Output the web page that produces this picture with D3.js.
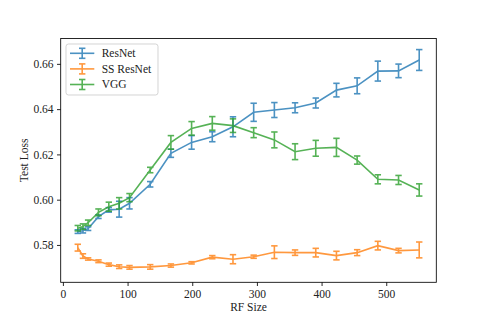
<!DOCTYPE html>
<html>
<head>
<script src="https://d3js.org/d3.v7.min.js"></script>
<style>
  body { margin: 0; background: #fff; }
  text { font-family: "Liberation Serif", "DejaVu Serif", serif; fill: #222; }
</style>
</head>
<body>
<div id="vis"></div>
<script>
// receptive field sizes (x)
var rfSize = [23, 31, 39, 55, 71, 87, 103, 135, 167, 199, 231, 263, 295, 327, 359, 391, 423, 455, 487, 519, 551];

var resnetMean = [0.5859, 0.5863, 0.5872, 0.5925, 0.5955, 0.5958, 0.5984, 0.6068, 0.6205, 0.6253, 0.6278,
                  0.6322, 0.6386, 0.6396, 0.6406, 0.6427, 0.6484, 0.6503, 0.6568, 0.6569, 0.6617];
var resnetErr  = [0.0008, 0.001, 0.0008, 0.0008, 0.001, 0.0035, 0.0025, 0.0012, 0.0018, 0.003, 0.0022,
                  0.0044, 0.004, 0.0033, 0.0022, 0.0022, 0.003, 0.0035, 0.0044, 0.003, 0.0046];

var ssMean = [0.5788, 0.5751, 0.5738, 0.5728, 0.5713, 0.5704, 0.5701, 0.5703, 0.5709, 0.5721, 0.5746,
              0.5737, 0.5748, 0.5768, 0.5766, 0.5766, 0.5753, 0.5766, 0.5797, 0.5775, 0.5778];
var ssErr  = [0.0015, 0.001, 0.0005, 0.0006, 0.0007, 0.0008, 0.0008, 0.001, 0.0007, 0.0005, 0.0007,
              0.002, 0.0007, 0.0028, 0.0012, 0.0019, 0.0019, 0.0013, 0.0019, 0.001, 0.0035];

var vggMean = [0.5874, 0.5881, 0.5898, 0.5944, 0.5969, 0.5984, 0.6009, 0.6131, 0.6253, 0.6315, 0.6337,
               0.6327, 0.6296, 0.6264, 0.6212, 0.6227, 0.6231, 0.6175, 0.609, 0.6087, 0.6043];
var vggErr  = [0.0012, 0.0012, 0.0012, 0.0015, 0.002, 0.0025, 0.0018, 0.0012, 0.003, 0.003, 0.003,
               0.003, 0.0022, 0.0035, 0.0035, 0.0035, 0.004, 0.0018, 0.002, 0.002, 0.0027];

var seriesNames = ["ResNet", "SS ResNet", "VGG"];
var xTicks = [0, 100, 200, 300, 400, 500];
var yTicks = [0.58, 0.60, 0.62, 0.64, 0.66];

var colors = ["#1f77b4", "#ff7f0e", "#2ca02c"];
var series = [
  {name: seriesNames[0], mean: resnetMean, err: resnetErr},
  {name: seriesNames[1], mean: ssMean, err: ssErr},
  {name: seriesNames[2], mean: vggMean, err: vggErr}
];

var W = 485, H = 323;
var margin = {top: 38.5, left: 60.7, bottom: 40.7, right: 48.7};
var width = W - margin.left - margin.right;
var height = H - margin.top - margin.bottom;
var fs = "11.5px";

var svg = d3.select("#vis").append("svg")
    .attr("width", W)
    .attr("height", H);

var g = svg.append("g")
    .attr("transform", "translate(" + margin.left + "," + margin.top + ")");

var xScale = d3.scaleLinear().domain([-3.4, 577.4]).range([0, width]);
var yScale = d3.scaleLinear().domain([0.5635, 0.6712]).range([height, 0]);

// axes
var xAxis = g.append("g")
    .attr("transform", "translate(0," + height + ")")
    .call(d3.axisBottom(xScale).tickValues(xTicks).tickSize(3.7).tickPadding(3.5).tickFormat(d3.format("d")));
var yAxis = g.append("g")
    .call(d3.axisLeft(yScale).tickValues(yTicks).tickSize(3.7).tickPadding(3.5).tickFormat(d3.format(".2f")));
[xAxis, yAxis].forEach(function(a) {
  a.select(".domain").remove();
  a.selectAll("line").attr("stroke", "#000").attr("stroke-width", 0.85);
  a.selectAll("text").attr("font-size", fs).attr("fill", "#222")
    .style("font-family", "'Liberation Serif', serif");
});

// series
var line = d3.line()
    .x(function(d) { return xScale(d.x); })
    .y(function(d) { return yScale(d.y); });

series.forEach(function(s, i) {
  var pts = rfSize.map(function(x, j) { return {x: x, y: s.mean[j], e: s.err[j]}; });
  var sg = g.append("g").attr("opacity", 0.8);
  sg.append("path")
    .datum(pts)
    .attr("d", line)
    .attr("fill", "none")
    .attr("stroke", colors[i])
    .attr("stroke-width", 1.6);
  var eb = sg.selectAll(".eb").data(pts).enter().append("g");
  eb.append("line")
    .attr("x1", function(d) { return xScale(d.x); })
    .attr("x2", function(d) { return xScale(d.x); })
    .attr("y1", function(d) { return yScale(d.y - d.e); })
    .attr("y2", function(d) { return yScale(d.y + d.e); })
    .attr("stroke", colors[i]).attr("stroke-width", 1.6);
  [-1, 1].forEach(function(sgn) {
    eb.append("line")
      .attr("x1", function(d) { return xScale(d.x) - 3.2; })
      .attr("x2", function(d) { return xScale(d.x) + 3.2; })
      .attr("y1", function(d) { return yScale(d.y + sgn * d.e); })
      .attr("y2", function(d) { return yScale(d.y + sgn * d.e); })
      .attr("stroke", colors[i]).attr("stroke-width", 1.6);
  });
});

// frame
g.append("rect")
  .attr("x", 0).attr("y", 0)
  .attr("width", width).attr("height", height)
  .attr("fill", "none").attr("stroke", "#000").attr("stroke-width", 0.85);

// labels
svg.append("text")
  .attr("x", margin.left + width / 2)
  .attr("y", 311)
  .attr("text-anchor", "middle")
  .attr("font-size", fs)
  .text("RF Size");
svg.append("text")
  .attr("transform", "translate(28," + (margin.top + height / 2) + ") rotate(-90)")
  .attr("text-anchor", "middle")
  .attr("font-size", fs)
  .text("Test Loss");

// legend
var leg = svg.append("g").attr("transform", "translate(66,44)");
leg.append("rect")
  .attr("width", 92).attr("height", 51).attr("rx", 2.5)
  .attr("fill", "#fff").attr("fill-opacity", 0.8)
  .attr("stroke", "#ccc").attr("stroke-width", 0.85);
series.forEach(function(s, i) {
  var y = 9.3 + i * 15.6;
  var li = leg.append("g").attr("opacity", 0.8);
  li.append("line").attr("x1", 4).attr("x2", 28.3).attr("y1", y).attr("y2", y)
    .attr("stroke", colors[i]).attr("stroke-width", 1.6);
  li.append("line").attr("x1", 16.2).attr("x2", 16.2).attr("y1", y - 5).attr("y2", y + 5)
    .attr("stroke", colors[i]).attr("stroke-width", 1.6);
  [-5, 5].forEach(function(o) {
    li.append("line").attr("x1", 13).attr("x2", 19.4).attr("y1", y + o).attr("y2", y + o)
      .attr("stroke", colors[i]).attr("stroke-width", 1.6);
  });
  leg.append("text")
    .attr("x", 35.7).attr("y", y + 3.9)
    .attr("font-size", fs)
    .text(s.name);
});
</script>
</body>
</html>
